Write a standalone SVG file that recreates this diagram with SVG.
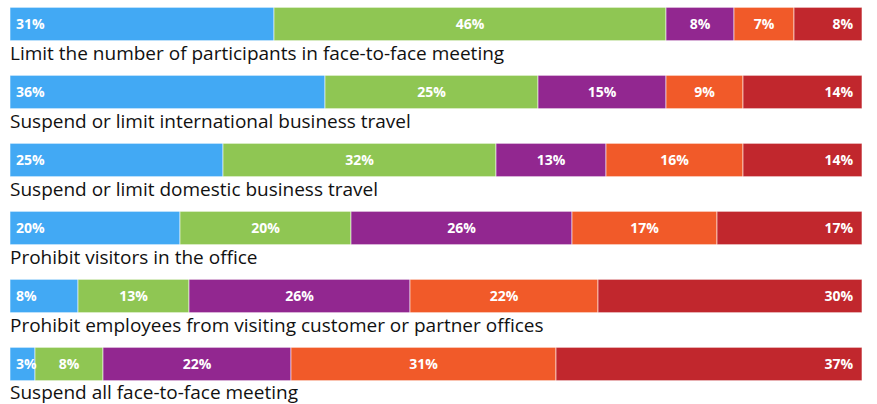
<svg xmlns="http://www.w3.org/2000/svg" width="877" height="404" viewBox="0 0 877 404">
<style>
.b{fill:#42A9F4}.g{fill:#8FC653}.p{fill:#922790}.o{fill:#F15A29}.r{fill:#C1272D}
rect{stroke:#ffffff;stroke-opacity:0.7;stroke-width:0.8}
.v{font-family:"Open Sans","Noto Sans",sans-serif;font-weight:bold;font-size:14px;fill:#ffffff}
.m{text-anchor:middle}.e{text-anchor:end}
.l{font-family:"Open Sans","Noto Sans",sans-serif;font-size:19px;fill:#111111}
</style>
<rect x="0" y="0" width="877" height="404" fill="#ffffff" stroke="none"/>
<g id="row1">
<rect class="b" x="10" y="7.3" width="264" height="33.4"/>
<rect class="g" x="274" y="7.3" width="392" height="33.4"/>
<rect class="p" x="666" y="7.3" width="68" height="33.4"/>
<rect class="o" x="734" y="7.3" width="60" height="33.4"/>
<rect class="r" x="794" y="7.3" width="68" height="33.4"/>
<text class="v" x="16" y="29">31%</text>
<text class="v m" x="470" y="29">46%</text>
<text class="v m" x="700" y="29">8%</text>
<text class="v m" x="764" y="29">7%</text>
<text class="v e" x="853" y="29">8%</text>
<text class="l" x="10" y="60">Limit the number of participants in face-to-face meeting</text>
</g>
<g id="row2">
<rect class="b" x="10" y="75.3" width="315" height="33.4"/>
<rect class="g" x="325" y="75.3" width="213" height="33.4"/>
<rect class="p" x="538" y="75.3" width="128" height="33.4"/>
<rect class="o" x="666" y="75.3" width="77" height="33.4"/>
<rect class="r" x="743" y="75.3" width="119" height="33.4"/>
<text class="v" x="16" y="97">36%</text>
<text class="v m" x="431.5" y="97">25%</text>
<text class="v m" x="602" y="97">15%</text>
<text class="v m" x="704.5" y="97">9%</text>
<text class="v e" x="853" y="97">14%</text>
<text class="l" x="10" y="128">Suspend or limit international business travel</text>
</g>
<g id="row3">
<rect class="b" x="10" y="143.3" width="213" height="33.4"/>
<rect class="g" x="223" y="143.3" width="273" height="33.4"/>
<rect class="p" x="496" y="143.3" width="110" height="33.4"/>
<rect class="o" x="606" y="143.3" width="137" height="33.4"/>
<rect class="r" x="743" y="143.3" width="119" height="33.4"/>
<text class="v" x="16" y="165">25%</text>
<text class="v m" x="359.5" y="165">32%</text>
<text class="v m" x="551" y="165">13%</text>
<text class="v m" x="674.5" y="165">16%</text>
<text class="v e" x="853" y="165">14%</text>
<text class="l" x="10" y="196">Suspend or limit domestic business travel</text>
</g>
<g id="row4">
<rect class="b" x="10" y="211.3" width="170" height="33.4"/>
<rect class="g" x="180" y="211.3" width="171" height="33.4"/>
<rect class="p" x="351" y="211.3" width="221" height="33.4"/>
<rect class="o" x="572" y="211.3" width="145" height="33.4"/>
<rect class="r" x="717" y="211.3" width="145" height="33.4"/>
<text class="v" x="16" y="233">20%</text>
<text class="v m" x="265.5" y="233">20%</text>
<text class="v m" x="461.5" y="233">26%</text>
<text class="v m" x="644.5" y="233">17%</text>
<text class="v e" x="853" y="233">17%</text>
<text class="l" x="10" y="264">Prohibit visitors in the office</text>
</g>
<g id="row5">
<rect class="b" x="10" y="279.3" width="68" height="33.4"/>
<rect class="g" x="78" y="279.3" width="111" height="33.4"/>
<rect class="p" x="189" y="279.3" width="221" height="33.4"/>
<rect class="o" x="410" y="279.3" width="188" height="33.4"/>
<rect class="r" x="598" y="279.3" width="264" height="33.4"/>
<text class="v" x="16" y="301">8%</text>
<text class="v m" x="133.5" y="301">13%</text>
<text class="v m" x="299.5" y="301">26%</text>
<text class="v m" x="504" y="301">22%</text>
<text class="v e" x="853" y="301">30%</text>
<text class="l" x="10" y="332">Prohibit employees from visiting customer or partner offices</text>
</g>
<g id="row6">
<rect class="b" x="10" y="347.3" width="25" height="33.4"/>
<rect class="g" x="35" y="347.3" width="68" height="33.4"/>
<rect class="p" x="103" y="347.3" width="188" height="33.4"/>
<rect class="o" x="291" y="347.3" width="265" height="33.4"/>
<rect class="r" x="556" y="347.3" width="306" height="33.4"/>
<text class="v" x="16" y="369">3%</text>
<text class="v m" x="69" y="369">8%</text>
<text class="v m" x="197" y="369">22%</text>
<text class="v m" x="423.5" y="369">31%</text>
<text class="v e" x="853" y="369">37%</text>
<text class="l" x="10" y="398.5">Suspend all face-to-face meeting</text>
</g>
</svg>
